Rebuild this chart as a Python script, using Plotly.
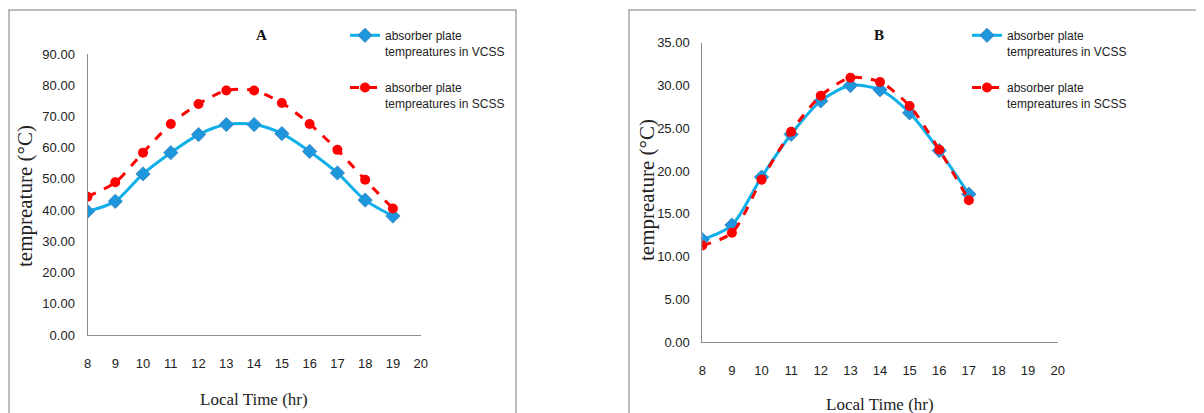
import plotly.graph_objects as go

hours_a = [8, 9, 10, 11, 12, 13, 14, 15, 16, 17, 18, 19]
vcss_a = [39.6, 42.8, 51.6, 58.4, 64.2, 67.4, 67.4, 64.5, 58.8, 51.9, 43.2, 38.1]
scss_a = [44.3, 48.9, 58.4, 67.6, 74.0, 78.3, 78.3, 74.3, 67.6, 59.3, 49.7, 40.5]

hours_b = [8, 9, 10, 11, 12, 13, 14, 15, 16, 17]
vcss_b = [12.0, 13.7, 19.3, 24.3, 28.2, 30.0, 29.5, 26.8, 22.4, 17.3]
scss_b = [11.3, 12.8, 19.0, 24.6, 28.8, 30.9, 30.4, 27.6, 22.5, 16.6]

x_ticks = list(range(8, 21))
name_v = "absorber plate<br>tempreatures in VCSS"
name_s = "absorber plate<br>tempreatures in SCSS"
x_title = "Local Time (hr)"
y_title = "tempreature (°C)"

# page has an 8px body margin; figure coordinates = page px - 8
OFF = 8
W, H = 1204 - OFF, 413 - OFF


def px(x):
    return (x - OFF) / W


def py(y):
    return 1 - (y - OFF) / H


BLUE_LINE = "#0FAFE8"
BLUE_MARK = "#1E96DC"
RED = "#FF0000"
SANS = "Liberation Sans Narrow, Arial Narrow, Liberation Sans, Arial"
TICKFONT = dict(family=SANS, size=13, color="#222")
LEGFONT = dict(family=SANS, size=12, color="#222")
SERIF = "Liberation Serif, Times New Roman, serif"

fig = go.Figure()


def add(xs, ys, name, xa, ya, leg, blue, grp):
    if blue:
        fig.add_trace(go.Scatter(x=xs, y=ys, name=name, mode="lines+markers", legendgroup=grp,
                                 line=dict(color=BLUE_LINE, width=3, shape="spline", smoothing=0.8),
                                 marker=dict(symbol="diamond", size=11, color=BLUE_MARK,
                                             line=dict(color="#3A7FC0", width=0.8)),
                                 xaxis=xa, yaxis=ya, legend=leg))
    else:
        fig.add_trace(go.Scatter(x=xs, y=ys, name=name, mode="lines+markers", legendgroup=grp,
                                 line=dict(color=RED, width=3, dash="dash", shape="spline", smoothing=0.8),
                                 marker=dict(symbol="circle", size=10, color=RED),
                                 xaxis=xa, yaxis=ya, legend=leg))


add(hours_a, vcss_a, name_v, "x", "y", "legend", True, "av")
add(hours_a, scss_a, name_s, "x", "y", "legend", False, "as")
add(hours_b, vcss_b, name_v, "x2", "y2", "legend2", True, "bv")
add(hours_b, scss_b, name_s, "x2", "y2", "legend2", False, "bs")

xcommon = dict(range=[8, 20], tickvals=x_ticks, showgrid=False, zeroline=False, automargin=False,
               showline=True, linecolor="#8c8c8c", linewidth=1,
               ticks="outside", ticklen=16, tickcolor="rgba(0,0,0,0)",
               tickfont=TICKFONT)
ycommon = dict(showgrid=False, zeroline=False, showline=True, linecolor="#8c8c8c", linewidth=1,
               automargin=False,
               ticks="outside", ticklen=9, tickcolor="rgba(0,0,0,0)", tickformat=".2f",
               tickfont=TICKFONT)

fig.update_layout(
    width=W, height=H, margin=dict(l=0, r=0, t=0, b=0, autoexpand=False),
    paper_bgcolor="white", plot_bgcolor="white",
    xaxis=dict(xcommon, domain=[px(87.5), px(420.7)], anchor="y"),
    yaxis=dict(ycommon, domain=[py(335), py(54)], anchor="x", range=[0, 90], dtick=10),
    xaxis2=dict(xcommon, domain=[px(702.3), px(1057.7)], anchor="y2"),
    yaxis2=dict(ycommon, domain=[py(342.3), py(42.7)], anchor="x2", range=[0, 35], dtick=5),
    legend=dict(x=px(345), y=py(21), xanchor="left", yanchor="top", font=LEGFONT,
                bgcolor="rgba(0,0,0,0)", valign="top", tracegroupgap=18, itemwidth=30),
    legend2=dict(x=px(967), y=py(21), xanchor="left", yanchor="top", font=LEGFONT,
                 bgcolor="rgba(0,0,0,0)", valign="top", tracegroupgap=18, itemwidth=30),
    showlegend=True,
)

ann = dict(xref="paper", yref="paper", showarrow=False, xanchor="center", yanchor="middle")
fig.add_annotation(text="<b>A</b>", x=px(261), y=py(35), font=dict(family=SERIF, size=15, color="#111"), **ann)
fig.add_annotation(text="<b>B</b>", x=px(879), y=py(35), font=dict(family=SERIF, size=15, color="#111"), **ann)
fig.add_annotation(text=x_title, x=px(254), y=py(399), font=dict(family=SERIF, size=17, color="#222"), **ann)
fig.add_annotation(text=x_title, x=px(880), y=py(404), font=dict(family=SERIF, size=17, color="#222"), **ann)
fig.add_annotation(text=y_title, x=px(25), y=py(196), textangle=-90,
                   font=dict(family=SERIF, size=21, color="#222"), **ann)
fig.add_annotation(text=y_title, x=px(647), y=py(190), textangle=-90,
                   font=dict(family=SERIF, size=21, color="#222"), **ann)

fig.add_shape(type="rect", xref="paper", yref="paper", x0=1 / W, x1=px(516), y0=-0.2, y1=py(10),
              line=dict(color="#a6a6a6", width=1.5))
fig.add_shape(type="rect", xref="paper", yref="paper", x0=px(629), x1=1.2, y0=-0.2, y1=py(10),
              line=dict(color="#a6a6a6", width=1.5))

fig.write_html("out.html")
